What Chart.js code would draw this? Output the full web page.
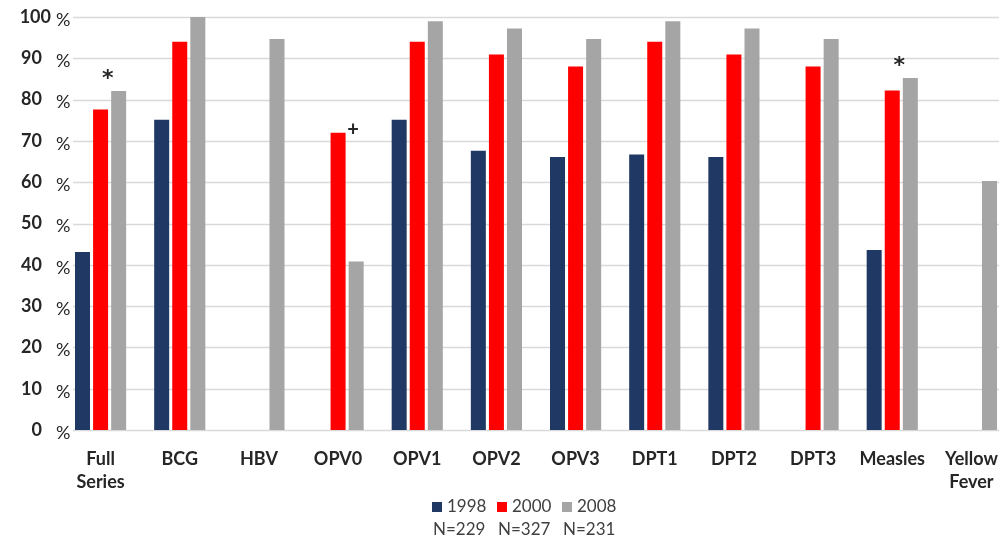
<!DOCTYPE html>
<html lang="en">
<head>
    <meta charset="UTF-8">
    <title>Vaccination coverage 1998 / 2000 / 2008</title>
    <script src="https://cdn.jsdelivr.net/npm/chart.js"></script>
    <style>
        html, body { margin: 0; padding: 0; background: #fff; overflow: hidden; }
        .wrap { width: 999px; height: 540px; overflow: hidden; position: relative; }
        canvas { display: block; }
    </style>
</head>
<body>
    <div class="wrap">
        <canvas id="chart" width="1011" height="540"></canvas>
    </div>

    <script>
        const categories = [['Full', 'Series'], 'BCG', 'HBV', 'OPV0', 'OPV1', 'OPV2', 'OPV3', 'DPT1', 'DPT2', 'DPT3', 'Measles', ['Yellow', 'Fever']];
        const years = ['1998', '2000', '2008'];
        const sampleSizes = ['N=229', 'N=327', 'N=231'];
        const values1998 = [43.1, 75.1, null, null, 75.1, 67.6, 66.1, 66.7, 66.1, null, 43.6, null];
        const values2000 = [77.6, 94.0, null, 72.0, 94.0, 90.9, 88.0, 94.0, 90.9, 88.0, 82.2, null];
        const values2008 = [82.1, 100, 94.7, 40.8, 99.0, 97.2, 94.7, 99.0, 97.2, 94.7, 85.2, 60.3];
        const yTicks = [0, 10, 20, 30, 40, 50, 60, 70, 80, 90, 100];
        // significance marks: category index, series index, symbol
        const marks = [[0, 2, '*'], [3, 1, '+'], [10, 2, '*']];

        const colors = ['#203864', '#ff0000', '#a5a5a5'];
        const textDark = '#262626';
        const legendText = '#404040';
        const FONT = 'Lato, "Open Sans", sans-serif';

        // gridlines, y labels, marks and the legend with its N= line
        const extras = {
            id: 'extras',
            beforeDatasetsDraw(chart) {
                const ctx = chart.ctx, y = chart.scales.y, area = chart.chartArea;
                ctx.save();
                ctx.strokeStyle = '#d9d9d9';
                ctx.lineWidth = 1.3;
                yTicks.forEach(t => {
                    const py = Math.round(y.getPixelForValue(t)) + 0.5;
                    ctx.beginPath();
                    ctx.moveTo(73, py);
                    ctx.lineTo(area.right, py);
                    ctx.stroke();
                });
                ctx.restore();
            },
            afterDraw(chart) {
                const ctx = chart.ctx, y = chart.scales.y;
                ctx.save();
                ctx.fillStyle = textDark;
                ctx.textBaseline = 'middle';
                yTicks.forEach(t => {
                    const py = y.getPixelForValue(t);
                    ctx.font = 'bold 18px ' + FONT;
                    ctx.textAlign = 'right';
                    ctx.fillText(String(t), t >= 100 ? 51 : 42, py);
                    ctx.font = '18px ' + FONT;
                    ctx.textAlign = 'left';
                    ctx.fillText('%', 56, py + 3);
                });

                ctx.textAlign = 'center';
                marks.forEach(([ci, si, sym]) => {
                    const bar = chart.getDatasetMeta(si).data[ci];
                    if (sym === '*') {
                        ctx.font = 'bold 22px "DejaVu Sans", sans-serif';
                        ctx.fillText(sym, bar.x - 11, bar.y - 12);
                    } else {
                        ctx.font = 'bold 20px ' + FONT;
                        ctx.fillText(sym, bar.x + 15, bar.y - 3);
                    }
                });

                // legend
                ctx.textAlign = 'left';
                years.forEach((yr, i) => {
                    const x0 = 432 + i * 65;
                    ctx.fillStyle = colors[i];
                    ctx.fillRect(x0, 502, 10, 10);
                    ctx.fillStyle = legendText;
                    ctx.font = '17px ' + FONT;
                    ctx.fillText(yr, x0 + 15, 507);
                    ctx.fillText(sampleSizes[i], x0 + 1, 530);
                });
                ctx.restore();
            }
        };

        new Chart(document.getElementById('chart'), {
            type: 'bar',
            data: {
                labels: categories,
                datasets: [
                    { label: years[0], data: values1998, backgroundColor: colors[0] },
                    { label: years[1], data: values2000, backgroundColor: colors[1] },
                    { label: years[2], data: values2008, backgroundColor: colors[2] }
                ]
            },
            options: {
                responsive: false,
                animation: false,
                devicePixelRatio: 1,
                categoryPercentage: 0.685,
                barPercentage: 0.83,
                layout: { padding: { top: 17, right: 0, bottom: 0, left: 0 } },
                scales: {
                    x: {
                        grid: { display: false },
                        border: { display: false },
                        ticks: {
                            color: textDark,
                            font: { family: FONT, size: 18, weight: 'bold', lineHeight: 1.28 },
                            padding: 10,
                            maxRotation: 0,
                            autoSkip: false
                        },
                        afterFit(s) { s.height = 110; }
                    },
                    y: {
                        min: 0,
                        max: 100,
                        grid: { display: false },
                        border: { display: false },
                        ticks: { display: false, stepSize: 10 },
                        afterFit(s) { s.width = 61; }
                    }
                },
                plugins: {
                    legend: { display: false },
                    tooltip: { enabled: false }
                }
            },
            plugins: [extras]
        });
    </script>
</body>
</html>
